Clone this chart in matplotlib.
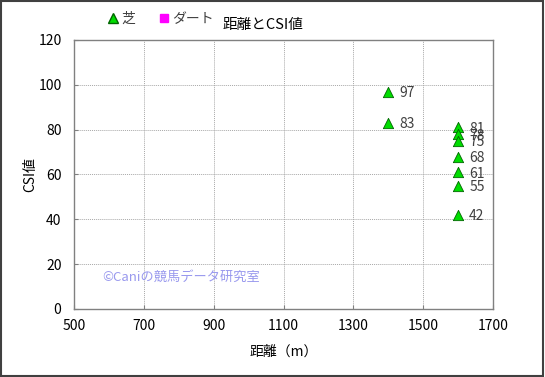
import matplotlib
matplotlib.use("Agg")
import matplotlib.pyplot as plt
from matplotlib.lines import Line2D
from matplotlib.patches import Rectangle

plt.rcParams['font.family'] = ['Noto Sans CJK JP', 'DejaVu Sans']

turf_dist = [1400, 1400, 1600, 1600, 1600, 1600, 1600, 1600, 1600]
turf_csi = [97, 83, 81, 78, 75, 68, 61, 55, 42]
dirt_dist = []
dirt_csi = []
xticks = [500, 700, 900, 1100, 1300, 1500, 1700]
yticks = [0, 20, 40, 60, 80, 100, 120]

fig = plt.figure(figsize=(5.45, 3.77), dpi=100)
fig.patches.append(Rectangle((0.002, 0.003), 0.995, 0.994, transform=fig.transFigure,
                             fill=False, edgecolor='#404040', linewidth=1.5))
ax = fig.add_axes([74/545, 1 - 309/377, (493-74)/545, (309-40)/377])
ax.set_xlim(500, 1700)
ax.set_ylim(0, 120)
ax.set_xticks(xticks)
ax.set_yticks(yticks)
ax.grid(True, color='#a8a8a8', linestyle=(0, (1, 1)), linewidth=0.7)
ax.set_axisbelow(True)
for s in ax.spines.values():
    s.set_color('#808080')
    s.set_linewidth(1.0)
ax.tick_params(direction='in', length=3, color='#808080', labelsize=10)
ax.tick_params(axis='y', pad=9)
ax.tick_params(axis='x', pad=7)

ax.scatter(turf_dist, turf_csi, marker='^', s=55, color='#00dd00', edgecolors='#006600',
           linewidths=0.6, zorder=3)
ax.scatter(dirt_dist, dirt_csi, marker='s', s=45, color='#ff00ff', zorder=3)
for x, y in zip(turf_dist, turf_csi):
    ax.annotate(str(y), (x, y), xytext=(8, -1), textcoords='offset points',
                va='center', ha='left', fontsize=10, color='#404040')

ax.set_xlabel('距離（m）', fontsize=10)
ax.set_ylabel('CSI値', fontsize=10)
ax.yaxis.set_label_coords((37 - 74) / 419, 0.5)
ax.xaxis.set_label_coords(0.5, (309 - 345) / 269)

ax.text(580, 14, '©Caniの競馬データ研究室', fontsize=9.5, color='#9999ee', va='center')

fig.text(263/545, 1 - 25/377, '距離とCSI値', ha='center', va='center', fontsize=10.5)
h1 = Line2D([], [], marker='^', linestyle='none', color='#00dd00', markeredgecolor='#006600',
            markersize=7)
h2 = Line2D([], [], marker='s', linestyle='none', color='#ff00ff', markersize=6)
fig.legend([h1, h2], ['芝', 'ダート'], loc='center left', bbox_to_anchor=(92/545, 1 - 19/377),
           ncol=2, frameon=False, fontsize=10, handletextpad=0.0, columnspacing=1.5,
           handlelength=1.2, labelcolor='#404040')

fig.savefig('out.png', dpi=100)
